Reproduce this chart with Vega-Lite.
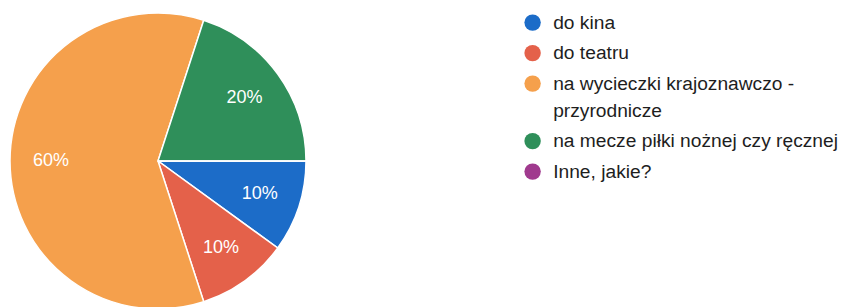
{
  "$schema": "https://vega.github.io/schema/vega-lite/v6.json",
  "width": 316,
  "height": 322,
  "padding": 0,
  "background": "white",
  "data": {"values": [
    {"k": "do kina", "v": 10, "i": 1, "p": "10%"},
    {"k": "do teatru", "v": 10, "i": 2, "p": "10%"},
    {"k": "na wycieczki krajoznawczo - przyrodnicze", "v": 60, "i": 3, "p": "60%"},
    {"k": "na mecze piłki nożnej czy ręcznej", "v": 20, "i": 4, "p": "20%"},
    {"k": "Inne, jakie?", "v": 0, "i": 5, "p": "0%"}
  ]},
  "encoding": {
    "theta": {"field": "v", "type": "quantitative", "stack": true, "scale": {"range": [1.5708, 7.854]}},
    "order": {"field": "i", "type": "quantitative"},
    "color": {
      "field": "k", "type": "nominal",
      "scale": {
        "domain": ["do kina", "do teatru", "na wycieczki krajoznawczo - przyrodnicze", "na mecze piłki nożnej czy ręcznej", "Inne, jakie?"],
        "range": ["#1c6cc8", "#e4614a", "#f5a04c", "#2f8f5a", "#a03a8e"]
      },
      "legend": {
        "title": null,
        "orient": "none",
        "legendX": 523,
        "legendY": 13,
        "symbolType": "circle",
        "symbolSize": 270,
        "symbolStrokeWidth": 0,
        "symbolOpacity": 1,
        "labelFont": "Liberation Sans",
        "labelFontSize": 19.2,
        "labelColor": "#1e1e1e",
        "labelOffset": 11,
        "labelLimit": 400,
        "rowPadding": 10.5,
        "labelExpr": "datum.label == 'na wycieczki krajoznawczo - przyrodnicze' ? ['na wycieczki krajoznawczo -', 'przyrodnicze'] : datum.label"
      }
    }
  },
  "layer": [
    {"mark": {"type": "arc", "outerRadius": 148, "stroke": "white", "strokeWidth": 1.5}},
    {
      "transform": [{"filter": "datum.v > 0"}],
      "mark": {"type": "text", "radius": 107, "fontSize": 18, "font": "Liberation Sans", "align": "center", "baseline": "middle"},
      "encoding": {
        "text": {"field": "p"},
        "color": {"value": "white"}
      }
    }
  ],
  "config": {
    "view": {"stroke": null},
    "style": {"guide-label": {"lineHeight": 27}}
  }
}
